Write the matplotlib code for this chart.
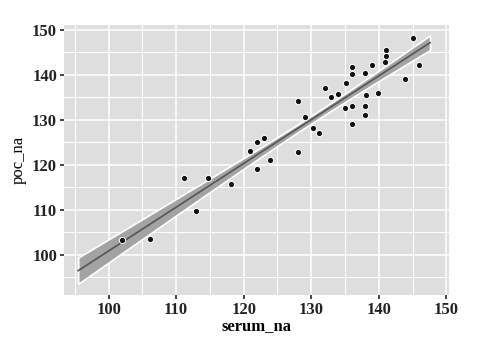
import numpy as np
import matplotlib
matplotlib.use('Agg')
import matplotlib.pyplot as plt
from matplotlib.ticker import MultipleLocator

serum_na = [102.0, 106.1, 111.1, 114.7, 113.0, 118.1, 120.9, 122.0, 123.0, 123.9,
            121.9, 128.0, 128.0, 145.0, 146.0, 141.0, 141.1, 140.9, 139.0, 143.9,
            136.1, 136.1, 138.0, 135.1, 132.1, 133.0, 134.0, 138.1, 139.9, 135.0,
            136.1, 138.0, 138.0, 136.0, 131.1, 130.2, 129.1]
poc_na = [103.3, 103.5, 117.0, 117.0, 109.8, 115.8, 123.2, 125.0, 125.9, 121.0,
          119.0, 134.2, 122.8, 148.3, 142.2, 145.6, 144.2, 142.9, 142.2, 139.2,
          141.7, 140.2, 140.4, 138.3, 137.1, 135.2, 135.8, 135.6, 136.0, 132.7,
          133.0, 133.0, 131.1, 129.0, 127.2, 128.2, 130.6]

fit_range = [95.5, 147.6]
x_ticks = [100, 110, 120, 130, 140, 150]
y_ticks = [100, 110, 120, 130, 140, 150]


def fit_band(x, y, xs, t=1.35):
    x = np.asarray(x)
    y = np.asarray(y)
    n = len(x)
    b, a = np.polyfit(x, y, 1)
    resid = y - (a + b * x)
    s = np.sqrt(np.sum(resid ** 2) / (n - 2))
    sxx = np.sum((x - x.mean()) ** 2)
    yhat = a + b * xs
    se = s * np.sqrt(1 / n + (xs - x.mean()) ** 2 / sxx)
    return yhat, yhat - t * se, yhat + t * se


fig = plt.figure(figsize=(4.97, 3.41), dpi=100)
ax = fig.add_axes([0.1288, 0.1349, 0.7746, 0.7918])
ax.set_facecolor('#dedede')

xs = np.linspace(fit_range[0], fit_range[1], 100)
yhat, lo, hi = fit_band(serum_na, poc_na, xs)

ax.fill_between(xs, lo, hi, color='#a3a3a3', edgecolor='white', linewidth=1.2, zorder=3)
ax.plot(xs, yhat, color='#555555', lw=1.2, zorder=4)
ax.scatter(serum_na, poc_na, s=20, c='#111111', edgecolors='white', linewidths=0.7, zorder=5)

ax.set_xlim(93.4, 150.4)
ax.set_ylim(91.1, 151.1)
ax.set_xticks(x_ticks)
ax.set_yticks(y_ticks)
ax.xaxis.set_minor_locator(MultipleLocator(5))
ax.yaxis.set_minor_locator(MultipleLocator(5))
ax.grid(which='major', color='white', lw=1.1)
ax.grid(which='minor', color='white', lw=0.8)
ax.set_axisbelow(True)
for sp in ax.spines.values():
    sp.set_visible(False)

fnt = 'Liberation Serif'
ax.tick_params(which='major', length=3, width=1.2, color='#222222', pad=2)
ax.tick_params(which='minor', length=0)
for lab in ax.get_xticklabels() + ax.get_yticklabels():
    lab.set_fontfamily(fnt)
    lab.set_fontweight('bold')
    lab.set_fontsize(12)
    lab.set_color('#222222')

ax.set_xlabel('serum_na', fontfamily=fnt, fontweight='bold', fontsize=12, labelpad=0)
ax.set_ylabel('poc_na', fontfamily=fnt, fontsize=12, labelpad=4)

fig.savefig('out.png', dpi=100)
